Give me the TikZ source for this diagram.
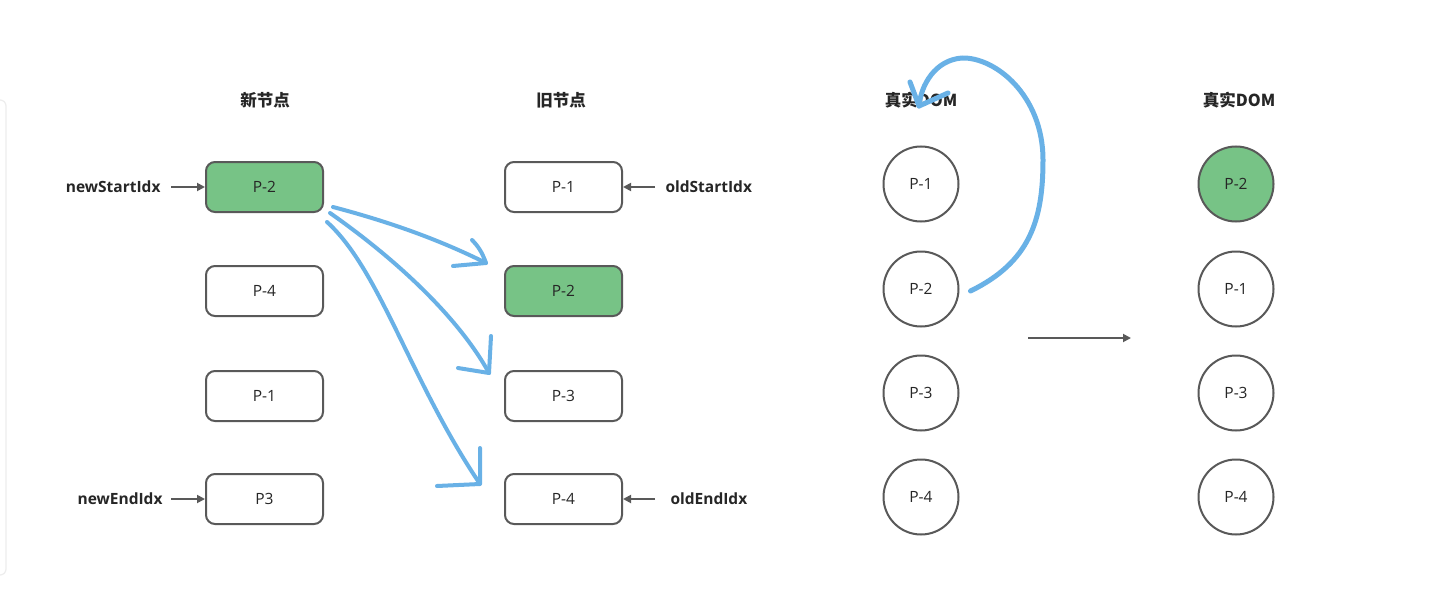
\documentclass[tikz,border=0pt]{standalone}
\usepackage{fontspec}
\setmainfont{Open Sans}
\newfontfamily\cjk{Noto Sans CJK SC}
\usepackage{tikz}
\usetikzlibrary{positioning,arrows.meta}
\definecolor{boxgray}{HTML}{595959}
\definecolor{pgreen}{HTML}{77C386}
\definecolor{penblue}{HTML}{69B1E6}
\tikzset{
    vbox/.style={draw=boxgray, line width=2pt, rounded corners=9pt, minimum width=117pt, minimum height=50pt, font=\fontsize{15.5}{18}\selectfont, text=black!85},
    dnode/.style={draw=boxgray, line width=2pt, circle, minimum size=75pt, font=\fontsize{15.5}{18}\selectfont, text=black!85},
    head/.style={font=\cjk\bfseries\fontsize{16.5}{19}\selectfont, text=black!85},
    idx/.style={font=\bfseries\fontsize{15.5}{18}\selectfont, text=black!85},
    ptr/.style={draw=boxgray, line width=1.8pt, -{Triangle[length=8pt,width=8pt]}},
    pen/.style={draw=penblue, line width=4pt, line cap=round, line join=round}
}
\begin{document}
\begin{tikzpicture}[x=1pt,y=-1pt]
    \useasboundingbox (0,0) rectangle (1433,602);
    \fill[white] (0,0) rectangle (1433,602);
    % faint panel edge
    \draw[black!7, line width=1.2pt, rounded corners=6pt] (-2,100) -- (6,100) -- (6,575) -- (-2,575);

    % new nodes
    \node[head] at (265,100) {新节点};
    \node[vbox, fill=pgreen] (n1) at (264.5,187) {P-2};
    \node[vbox] (n2) at (264.5,291) {P-4};
    \node[vbox] (n3) at (264.5,396) {P-1};
    \node[vbox] (n4) at (264.5,499) {P3};
    \node[idx, anchor=east] (ns) at (164,187) {newStartIdx};
    \node[idx, anchor=east] (ne) at (166,499) {newEndIdx};
    \draw[ptr] (ns.east) ++(7,0) -- (n1.west);
    \draw[ptr] (ne.east) ++(5,0) -- (n4.west);

    % old nodes
    \node[head] at (561,100) {旧节点};
    \node[vbox] (o1) at (563.5,187) {P-1};
    \node[vbox, fill=pgreen] (o2) at (563.5,291) {P-2};
    \node[vbox] (o3) at (563.5,396) {P-3};
    \node[vbox] (o4) at (563.5,499) {P-4};
    \node[idx, anchor=west] (os) at (662,187) {oldStartIdx};
    \node[idx, anchor=west] (oe) at (667,499) {oldEndIdx};
    \draw[ptr] (os.west) ++(-7,0) -- (o1.east);
    \draw[ptr] (oe.west) ++(-12,0) -- (o4.east);

    % real DOM before
    \node[head] at (921,100) {真实DOM};
    \node[dnode] (d1) at (921,184) {P-1};
    \node[dnode] (d2) at (921,289) {P-2};
    \node[dnode] (d3) at (921,393) {P-3};
    \node[dnode] (d4) at (921,497) {P-4};

    % real DOM after
    \node[head] at (1239,100) {真实DOM};
    \node[dnode, fill=pgreen] (r1) at (1236,184) {P-2};
    \node[dnode] (r2) at (1236,289) {P-1};
    \node[dnode] (r3) at (1236,393) {P-3};
    \node[dnode] (r4) at (1236,497) {P-4};

    \coordinate (m1) at (1028,338);
    \coordinate (m2) at (1131,338);
    \draw[ptr] (m1) -- (m2);

    % hand drawn moves
    \coordinate (t1) at (486,263);
    \coordinate (t2) at (489,373);
    \coordinate (t3) at (480,484);
    \coordinate (t4) at (919,106);
    \draw[pen] ([shift={(9,-6)}]n1.south east) .. controls (390,222) and (440,240) .. (t1);
    \draw[pen] (453,266) -- (t1) .. controls (482,252) and (478,246) .. (472,240);
    \draw[pen] ([shift={(6,0)}]n1.south east) .. controls (400,262) and (460,320) .. (t2);
    \draw[pen] (458,368) -- (t2) -- (491,336);
    \draw[pen] ([shift={(3,9)}]n1.south east) .. controls (380,270) and (410,380) .. (t3);
    \draw[pen] (437,486) -- (t3) -- (480,448);
    \draw[pen, line width=5pt] ([shift={(11,2)}]d2.east) .. controls (1030,262) and (1043,220) .. (1043,160)
        .. controls (1043,95) and (995,57) .. (962,58) .. controls (935,60) and (921,85) .. (t4);
    \draw[pen, line width=5pt] (910,82) -- (t4) -- (948,93);
\end{tikzpicture}
\end{document}
